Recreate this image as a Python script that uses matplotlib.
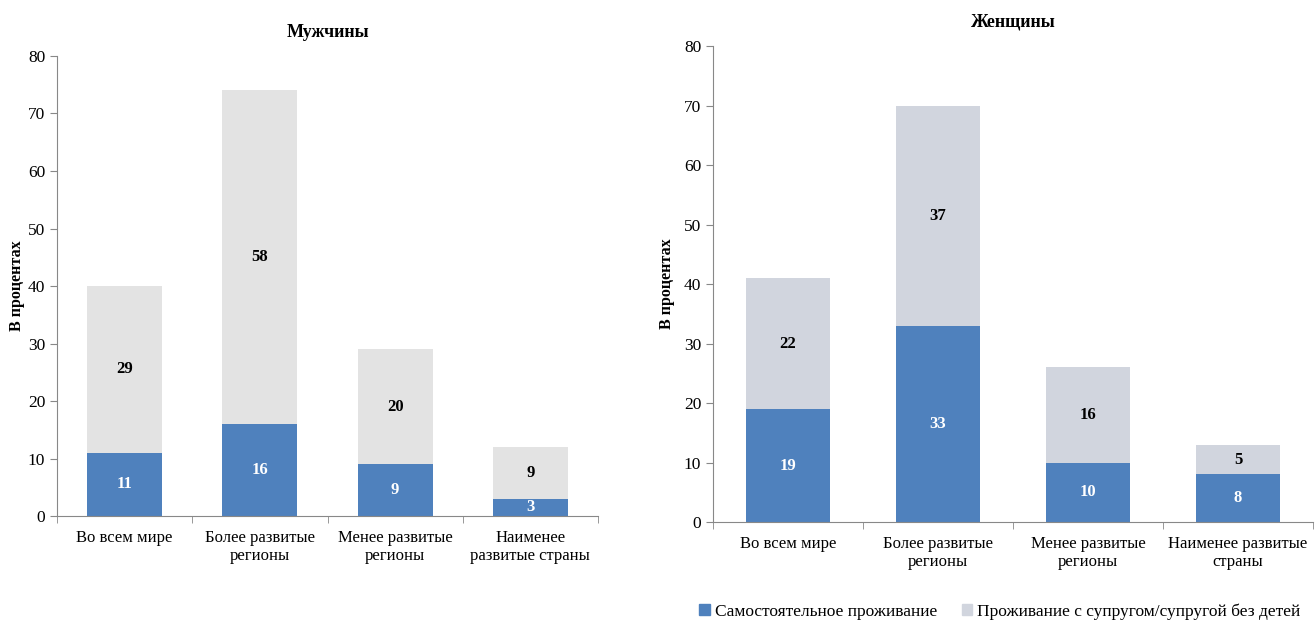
import matplotlib.pyplot as plt
import numpy as np
from matplotlib.patches import Patch

plt.rcParams["font.family"] = ["Liberation Serif", "DejaVu Serif"]

categories = ["Во всем мире", "Более развитые\nрегионы", "Менее развитые\nрегионы",
              "Наименее\nразвитые страны"]
categories_w = ["Во всем мире", "Более развитые\nрегионы", "Менее развитые\nрегионы",
                "Наименее развитые\nстраны"]
men_alone = [11, 16, 9, 3]
men_spouse = [29, 58, 20, 9]
women_alone = [19, 33, 10, 8]
women_spouse = [22, 37, 16, 5]

blue = "#4F81BD"
grey_m = "#E3E3E3"
grey_w = "#D1D5DE"
spine_c = "#888888"

fig = plt.figure(figsize=(13.15, 6.2), dpi=100)
ax1 = fig.add_axes([0.0433, 0.1677, 0.4115, 0.742])
ax2 = fig.add_axes([0.5422, 0.158, 0.4563, 0.7678])


def draw(ax, labels, alone, spouse, grey, title):
    x = np.arange(len(labels))
    w = 0.555
    ax.bar(x, alone, w, color=blue)
    ax.bar(x, spouse, w, bottom=alone, color=grey)
    for i in range(len(x)):
        ax.text(x[i], alone[i] / 2, str(alone[i]), ha="center", va="center",
                color="white", fontweight="bold", fontsize=12)
        ax.text(x[i], alone[i] + spouse[i] / 2, str(spouse[i]), ha="center",
                va="center", color="black", fontweight="bold", fontsize=12)
    ax.set_xlim(-0.5, len(x) - 0.5)
    ax.set_ylim(0, 80)
    ax.set_yticks(range(0, 81, 10))
    ax.set_xticks(x)
    ax.set_xticklabels(labels, fontsize=12)
    ax.set_xticks(np.arange(-0.5, len(x), 1), minor=True)
    ax.tick_params(axis="x", which="major", length=0, pad=10)
    ax.tick_params(axis="x", which="minor", length=5, color=spine_c)
    ax.tick_params(axis="y", length=5, color=spine_c, labelsize=12.5)
    for s in ["top", "right"]:
        ax.spines[s].set_visible(False)
    for s in ["left", "bottom"]:
        ax.spines[s].set_color(spine_c)
    ax.set_title(title, fontweight="bold", fontsize=13, pad=14)


draw(ax1, categories, men_alone, men_spouse, grey_m, "Мужчины")
draw(ax2, categories_w, women_alone, women_spouse, grey_w, "Женщины")
ax1.set_ylabel("В процентах", fontweight="bold", fontsize=11.5, labelpad=2)
ax2.set_ylabel("В процентах", fontweight="bold", fontsize=11.5, labelpad=6)

handles = [Patch(color=blue), Patch(color=grey_w)]
fig.legend(handles, ["Самостоятельное проживание",
                     "Проживание с супругом/супругой без детей"],
           loc="lower left", bbox_to_anchor=(0.52, -0.025), ncol=2, frameon=False,
           fontsize=12.5, handlelength=0.6, handleheight=0.6, handletextpad=0.3,
           columnspacing=1.4)

fig.savefig("out.png", dpi=100)
